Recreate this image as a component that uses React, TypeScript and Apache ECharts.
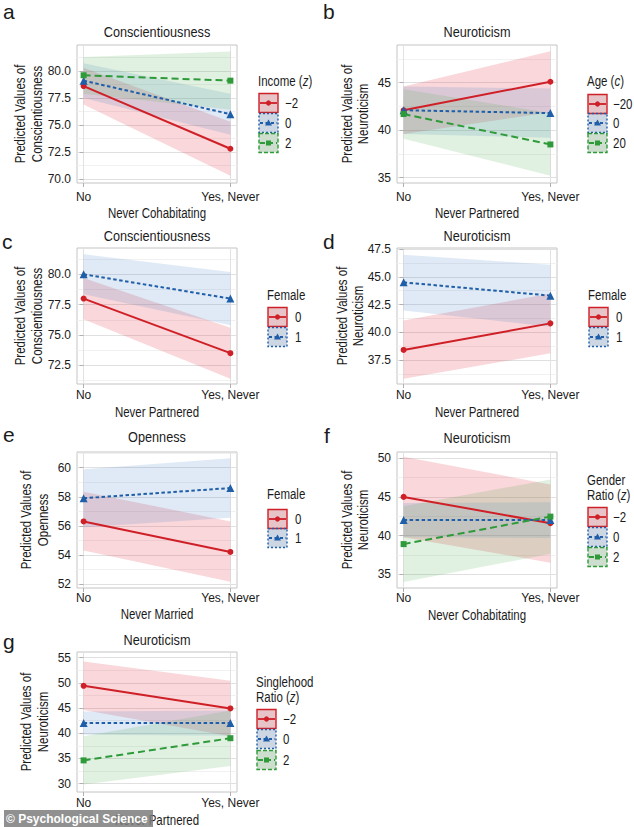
import React, { useEffect, useRef } from "react";
import * as echarts from "echarts";

const X_CATS = ["No", "Yes, Never"];

// a: Conscientiousness × Never Cohabitating × Income (z)
const aLevels = ["\u22122", "0", "2"];
const aMean = [[78.6, 72.8], [79.1, 76.0], [79.6, 79.1]];
const aLow = [[76.9, 70.3], [77.5, 74.1], [77.9, 76.4]];
const aHigh = [[80.3, 75.3], [80.7, 77.9], [81.3, 81.8]];
const aTicks = [70, 72.5, 75, 77.5, 80];
const aMinor = [71.25, 73.75, 76.25, 78.75, 81.25];

// b: Neuroticism × Never Partnered × Age (c)
const bLevels = ["\u221220", "0", "20"];
const bMean = [[42.1, 45.1], [42.1, 41.8], [41.7, 38.5]];
const bLow = [[39.6, 41.9], [39.6, 39.2], [39.1, 35.2]];
const bHigh = [[44.6, 48.3], [44.6, 44.4], [44.3, 41.8]];
const bTicks = [35, 40, 45];
const bMinor = [37.5, 42.5, 47.5];

// c: Conscientiousness × Never Partnered × Female
const cLevels = ["0", "1"];
const cMean = [[78.0, 73.5], [80.0, 78.0]];
const cLow = [[76.3, 71.4], [78.35, 75.8]];
const cHigh = [[79.7, 75.6], [81.65, 80.2]];
const cTicks = [72.5, 75, 77.5, 80];
const cMinor = [71.25, 73.75, 76.25, 78.75, 81.25];

// d: Neuroticism × Never Partnered × Female
const dLevels = ["0", "1"];
const dMean = [[38.4, 40.8], [44.5, 43.3]];
const dLow = [[35.8, 38.1], [41.95, 40.5]];
const dHigh = [[41.05, 43.5], [47.0, 46.1]];
const dTicks = [37.5, 40, 42.5, 45, 47.5];
const dMinor = [36.25, 38.75, 41.25, 43.75, 46.25];

// e: Openness × Never Married × Female
const eLevels = ["0", "1"];
const eMean = [[56.3, 54.2], [57.9, 58.6]];
const eLow = [[54.3, 52.15], [55.9, 56.55]];
const eHigh = [[58.35, 56.3], [59.9, 60.65]];
const eTicks = [52, 54, 56, 58, 60];
const eMinor = [53, 55, 57, 59, 61];

// f: Neuroticism × Never Cohabitating × Gender Ratio (z)
const fLevels = ["\u22122", "0", "2"];
const fMean = [[45.0, 41.6], [42.0, 42.0], [38.9, 42.45]];
const fLow = [[39.8, 36.5], [39.8, 39.7], [34.0, 37.65]];
const fHigh = [[50.2, 46.6], [44.2, 44.3], [43.8, 47.25]];
const fTicks = [35, 40, 45, 50];
const fMinor = [37.5, 42.5, 47.5];

// g: Neuroticism × Never Partnered × Singlehood Ratio (z)
const gLevels = ["\u22122", "0", "2"];
const gMean = [[49.4, 44.9], [42.0, 42.0], [34.6, 39.0]];
const gLow = [[44.6, 39.4], [39.7, 39.5], [29.8, 33.5]];
const gHigh = [[54.2, 50.4], [44.3, 44.5], [39.4, 44.5]];
const gTicks = [30, 35, 40, 45, 50, 55];
const gMinor = [32.5, 37.5, 42.5, 47.5, 52.5];

const FONT = '"Liberation Sans", Arial, Helvetica, sans-serif';
const NARROW = 0.82;
const TEXT = "#1b1b1b";
const COLORS = ["#cf1f27", "#1f5ea8", "#2f9a3a"];
const BANDS = ["rgba(225,40,60,0.19)", "rgba(70,128,200,0.17)", "rgba(80,170,80,0.17)"];
const LINE_TYPES: any[] = ["solid", [3.5, 2.5], [7, 4]];
const SYMBOLS = ["circle", "triangle", "rect"];
const SYMBOL_SIZES = [6, 8, 6];

const PANELS = [
  {
    letter: "a", title: "Conscientiousness", xName: "Never Cohabitating",
    yName: "Predicted Values of\nConscientiousness", legendTitle: "Income ({i|z})",
    levels: aLevels, mean: aMean, low: aLow, high: aHigh, ticks: aTicks, minor: aMinor, dec: 1,
    min: 69.63, max: 82.4, grid: { left: 77, top: 45, width: 160, height: 138 },
    yNameX: 28.5, xLabelMargin: 8, xNameY: 213, titleY: 31.5, letterXY: [3, 11],
    legend: { x: 259, titleY: 81, itemY: [103, 123, 143], labelX: 285 },
  },
  {
    letter: "b", title: "Neuroticism", xName: "Never Partnered",
    yName: "Predicted Values of\nNeuroticism", legendTitle: "Age ({i|c})",
    levels: bLevels, mean: bMean, low: bLow, high: bHigh, ticks: bTicks, minor: bMinor, dec: 0,
    min: 34.44, max: 48.97, grid: { left: 397, top: 45, width: 160, height: 138 },
    yNameX: 355, xLabelMargin: 8, xNameY: 213, titleY: 31.5, letterXY: [323, 11],
    legend: { x: 588, titleY: 81, itemY: [104, 123, 143], labelX: 613 },
  },
  {
    letter: "c", title: "Conscientiousness", xName: "Never Partnered",
    yName: "Predicted Values of\nConscientiousness", legendTitle: "Female",
    levels: cLevels, mean: cMean, low: cLow, high: cHigh, ticks: cTicks, minor: cMinor, dec: 1,
    min: 70.96, max: 82.17, grid: { left: 77, top: 248, width: 160, height: 136 },
    yNameX: 28.5, xLabelMargin: 5, xNameY: 412, titleY: 236, letterXY: [2, 241],
    legend: { x: 268, titleY: 295, itemY: [317, 337], labelX: 295 },
  },
  {
    letter: "d", title: "Neuroticism", xName: "Never Partnered",
    yName: "Predicted Values of\nNeuroticism", legendTitle: "Female",
    levels: dLevels, mean: dMean, low: dLow, high: dHigh, ticks: dTicks, minor: dMinor, dec: 1,
    min: 35.33, max: 47.6, grid: { left: 397, top: 248, width: 160, height: 136 },
    yNameX: 350, xLabelMargin: 5, xNameY: 412, titleY: 236, letterXY: [323, 241],
    legend: { x: 589, titleY: 295, itemY: [317, 337], labelX: 616 },
  },
  {
    letter: "e", title: "Openness", xName: "Never Married",
    yName: "Predicted Values of\nOpenness", legendTitle: "Female",
    levels: eLevels, mean: eMean, low: eLow, high: eHigh, ticks: eTicks, minor: eMinor, dec: 0,
    min: 51.72, max: 61.08, grid: { left: 77, top: 452, width: 160, height: 136 },
    yNameX: 34.5, xLabelMargin: 4, xNameY: 614, titleY: 436.5, letterXY: [3, 434],
    legend: { x: 268, titleY: 494, itemY: [519, 538], labelX: 295 },
  },
  {
    letter: "f", title: "Neuroticism", xName: "Never Cohabitating",
    yName: "Predicted Values of\nNeuroticism", legendTitle: "Gender\nRatio ({i|z})",
    levels: fLevels, mean: fMean, low: fLow, high: fHigh, ticks: fTicks, minor: fMinor, dec: 0,
    min: 33.23, max: 50.8, grid: { left: 397, top: 452, width: 160, height: 136 },
    yNameX: 355, xLabelMargin: 4, xNameY: 615, titleY: 437.5, letterXY: [324, 435],
    legend: { x: 588, titleY: 487.5, itemY: [517, 537, 557], labelX: 613 },
  },
  {
    letter: "g", title: "Neuroticism", xName: "Never Partnered",
    yName: "Predicted Values of\nNeuroticism", legendTitle: "Singlehood\nRatio ({i|z})",
    levels: gLevels, mean: gMean, low: gLow, high: gHigh, ticks: gTicks, minor: gMinor, dec: 0,
    min: 28.33, max: 56.1, grid: { left: 77, top: 652, width: 160, height: 140 },
    yNameX: 34.5, xLabelMargin: 5, xNameY: 820, titleY: 640, letterXY: [3, 641],
    legend: { x: 257, titleY: 689.5, itemY: [719, 739, 760], labelX: 283 },
  },
];

function txt(text: string, x: number, y: number, opts: any = {}) {
  const align = opts.align || "left";
  const va = opts.va || "middle";
  const fs = opts.fontSize || 13.5;
  const ff = opts.fontFamily || FONT;
  const fill = opts.fill || TEXT;
  return {
    type: "text",
    z: opts.z || 50,
    silent: true,
    x, y,
    rotation: opts.rotation || 0,
    scaleX: opts.scaleX === undefined ? NARROW : opts.scaleX,
    style: {
      text, x: 0, y: 0,
      fill, fontFamily: ff, fontSize: fs,
      fontWeight: opts.fontWeight || "normal",
      lineHeight: opts.lineHeight || 15,
      align, verticalAlign: va, textAlign: align, textVerticalAlign: va,
      rich: { i: { fontStyle: "italic", fontFamily: ff, fontSize: fs, fill, lineHeight: opts.lineHeight || 15 } },
    },
  };
}

function buildOption() {
  const grid: any[] = [];
  const xAxis: any[] = [];
  const yAxis: any[] = [];
  const bandSeries: any[] = [];
  const lineSeries: any[] = [];
  const graphic: any[] = [];

  PANELS.forEach((p, i) => {
    grid.push({ ...p.grid, show: true, borderColor: "#c4c4c4", borderWidth: 1, backgroundColor: "#ffffff" });
    xAxis.push({
      type: "value", gridIndex: i, min: -0.045, max: 1.045,
      axisLine: { show: false },
      axisTick: { show: true, customValues: [0, 1], length: 4, lineStyle: { color: "#b0b0b0" } },
      axisLabel: {
        customValues: [0, 1], margin: p.xLabelMargin, fontFamily: FONT, fontSize: 12, color: TEXT,
        formatter: (v: number) => X_CATS[Math.round(v)],
      },
      splitLine: { show: true, lineStyle: { color: "#e2e2e2", width: 1 } },
    });
    yAxis.push({
      type: "value", gridIndex: i, min: p.min, max: p.max, position: "left",
      axisLine: { show: false },
      axisTick: { show: true, customValues: p.ticks, length: 4, lineStyle: { color: "#b0b0b0" } },
      axisLabel: {
        customValues: p.ticks, margin: 6, fontFamily: FONT, fontSize: 12, color: TEXT,
        formatter: (v: number) => v.toFixed(p.dec),
      },
      splitLine: { show: true, lineStyle: { color: "#e0e0e0", width: 1 } },
    });
    yAxis.push({
      type: "value", gridIndex: i, min: p.min, max: p.max, position: "left",
      axisLine: { show: false },
      axisTick: { show: false, customValues: p.minor },
      axisLabel: { show: false },
      splitLine: { show: true, lineStyle: { color: "#f1f1f1", width: 1 } },
    });

    p.levels.forEach((lvl, j) => {
      bandSeries.push({
        type: "custom", xAxisIndex: i, yAxisIndex: 2 * i, silent: true, z: 1,
        encode: { x: [0, 3], y: [1, 2, 4, 5] },
        data: [[0, p.low[j][0], p.high[j][0], 1, p.low[j][1], p.high[j][1]]],
        renderItem: (params: any, api: any) => {
          const a = api.coord([api.value(0), api.value(1)]);
          const b = api.coord([api.value(3), api.value(4)]);
          const c = api.coord([api.value(3), api.value(5)]);
          const d = api.coord([api.value(0), api.value(2)]);
          return { type: "polygon", shape: { points: [a, b, c, d] }, style: { fill: BANDS[j] } };
        },
      });
      lineSeries.push({
        type: "line", xAxisIndex: i, yAxisIndex: 2 * i, silent: true, z: 3,
        data: [[0, p.mean[j][0]], [1, p.mean[j][1]]],
        symbol: SYMBOLS[j], symbolSize: SYMBOL_SIZES[j], showSymbol: true,
        lineStyle: { color: COLORS[j], width: 2, type: LINE_TYPES[j] },
        itemStyle: { color: COLORS[j], borderWidth: 0 },
      });

      // legend key
      const L = p.legend;
      const cy = L.itemY[j];
      const bx = L.x;
      const dash = j === 0 ? null : j === 1 ? [2, 2] : [4, 2];
      graphic.push({ type: "rect", z: 40, silent: true, shape: { x: bx, y: cy - 9.5, width: 19, height: 19 }, style: { fill: "#e8e8e8" } });
      graphic.push({
        type: "rect", z: 41, silent: true, shape: { x: bx, y: cy - 9.5, width: 19, height: 19 },
        style: { fill: BANDS[j], stroke: COLORS[j], lineWidth: 1.4, lineDash: dash },
      });
      graphic.push({
        type: "line", z: 42, silent: true, shape: { x1: bx + 1, y1: cy, x2: bx + 18, y2: cy },
        style: { stroke: COLORS[j], lineWidth: 1.8, lineDash: j === 0 ? null : j === 1 ? [3, 2.5] : [5, 3] },
      });
      if (j === 0) {
        graphic.push({ type: "circle", z: 43, silent: true, shape: { cx: bx + 9.5, cy, r: 2.6 }, style: { fill: COLORS[j] } });
      } else if (j === 1) {
        graphic.push({
          type: "polygon", z: 43, silent: true,
          shape: { points: [[bx + 9.5, cy - 3.5], [bx + 13, cy + 2.5], [bx + 6, cy + 2.5]] },
          style: { fill: COLORS[j] },
        });
      } else {
        graphic.push({ type: "rect", z: 43, silent: true, shape: { x: bx + 7, y: cy - 2.5, width: 5, height: 5 }, style: { fill: COLORS[j] } });
      }
      graphic.push(txt(lvl, L.labelX, cy + 0.5, { fontSize: 14 }));
    });

    const cx = p.grid.left + p.grid.width / 2;
    const cyMid = p.grid.top + p.grid.height / 2;
    graphic.push(txt(p.legendTitle, p.legend.x - 1, p.legend.titleY, { fontSize: 14, lineHeight: 15.5 }));
    graphic.push(txt(p.title, cx, p.titleY, { fontSize: 15.5, align: "center" }));
    graphic.push(txt(p.xName, cx, p.xNameY, { fontSize: 14, align: "center" }));
    graphic.push(txt(p.yName, p.yNameX, cyMid, { fontSize: 14, align: "center", lineHeight: 16.5, rotation: Math.PI / 2 }));
    graphic.push(txt(p.letter, p.letterXY[0], p.letterXY[1], { fontSize: 21, scaleX: 1 }));
  });

  // watermark
  graphic.push({ type: "rect", z: 90, silent: true, shape: { x: 4, y: 810, width: 149, height: 17 }, style: { fill: "rgba(125,125,125,0.85)" } });
  graphic.push(txt("\u00a9 Psychological Science", 6, 818.5, {
    fontSize: 12, fontWeight: "bold", fill: "#ffffff", z: 91, scaleX: 1,
  }));

  return {
    animation: false,
    backgroundColor: "#ffffff",
    grid, xAxis, yAxis,
    series: [...bandSeries, ...lineSeries],
    graphic,
  };
}

export default function App() {
  const ref = useRef<HTMLDivElement>(null);
  useEffect(() => {
    if (!ref.current) return;
    const chart = echarts.init(ref.current, undefined, { renderer: "svg" });
    chart.setOption(buildOption() as any);
    return () => chart.dispose();
  }, []);
  return <div ref={ref} style={{ position: "absolute", left: 0, top: 0, width: 634, height: 827 }} />;
}
